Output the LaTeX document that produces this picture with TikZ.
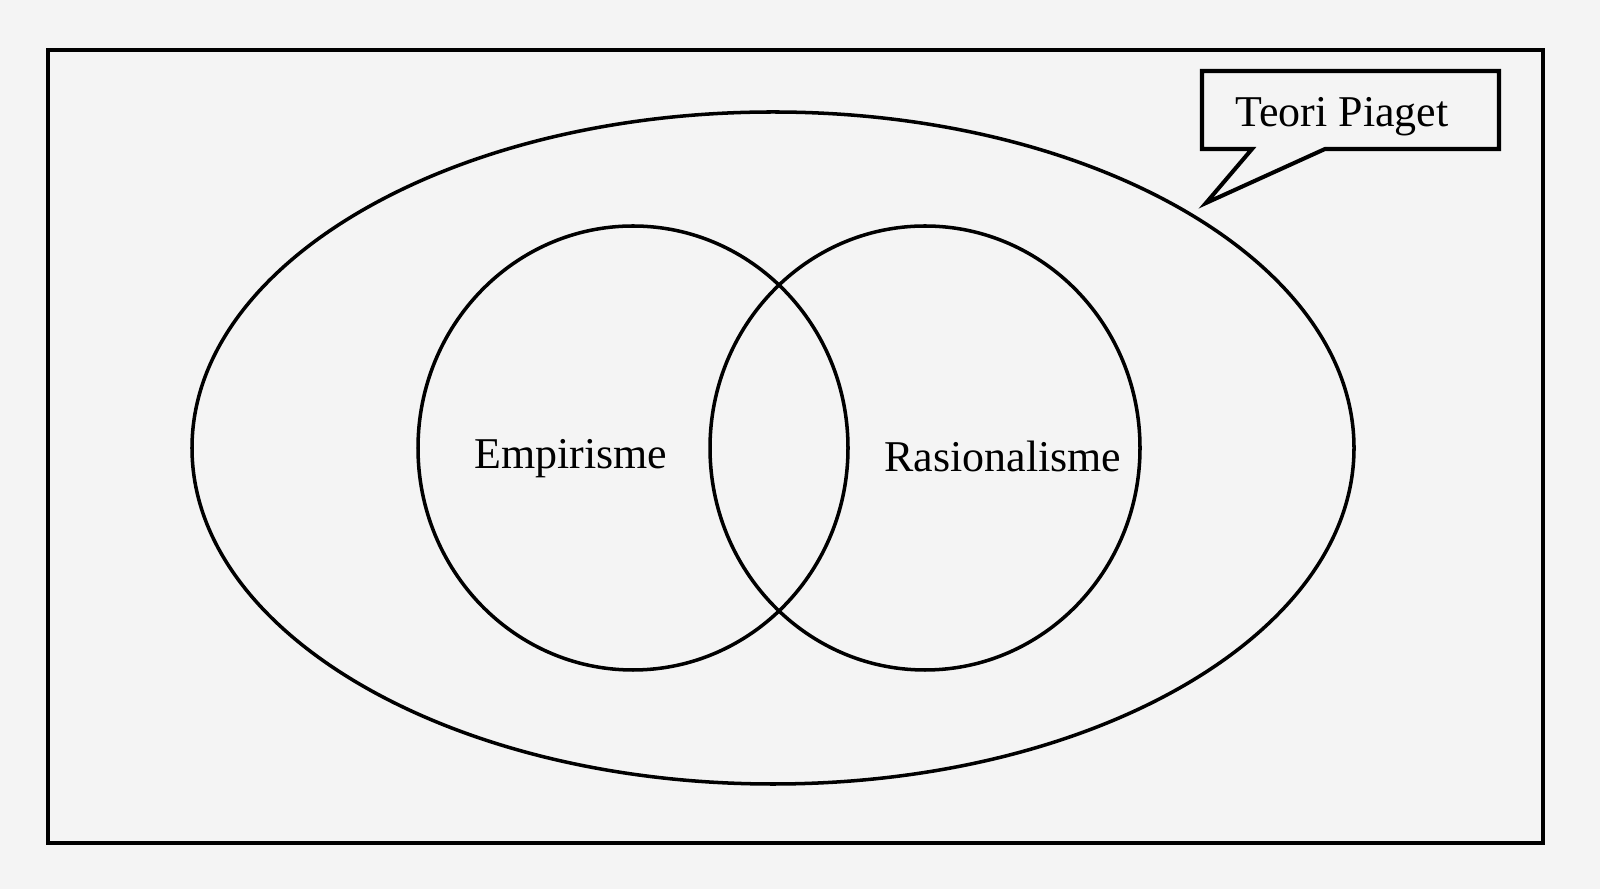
\documentclass[tikz,border=0pt]{standalone}
\usepackage{fontspec}
\setmainfont{Liberation Serif}
\begin{document}
\begin{tikzpicture}[x=0.01cm,y=-0.01cm,
  frame/.style={line width=1.15pt,draw=black},
  ring/.style={line width=1.0pt,draw=black},
  lbl/.style={anchor=base,inner sep=0pt,font=\fontsize{12.5}{15}\selectfont}]
\fill[fill={rgb,255:red,244;green,244;blue,244}] (0,0) rectangle (1600,889);
\useasboundingbox (0,0) rectangle (1600,889);
\draw[frame] (48,50) rectangle (1543,843);
\draw[ring] (773,448) ellipse [x radius=581, y radius=336];
\draw[ring] (633,448) ellipse [x radius=215, y radius=222];
\draw[ring] (925,448) ellipse [x radius=215, y radius=222];
\node[lbl] (emp) at (571,469) {Empirisme};
\node[lbl] (ras) at (1003,472) {Rasionalisme};
\draw[frame,line join=miter] (1202,71) -- (1499,71) -- (1499,149) -- (1325,149) -- (1206,203) -- (1252,149) -- (1202,149) -- cycle;
\node[lbl] (teori) at (1342,127) {Teori Piaget};
\end{tikzpicture}
\end{document}
